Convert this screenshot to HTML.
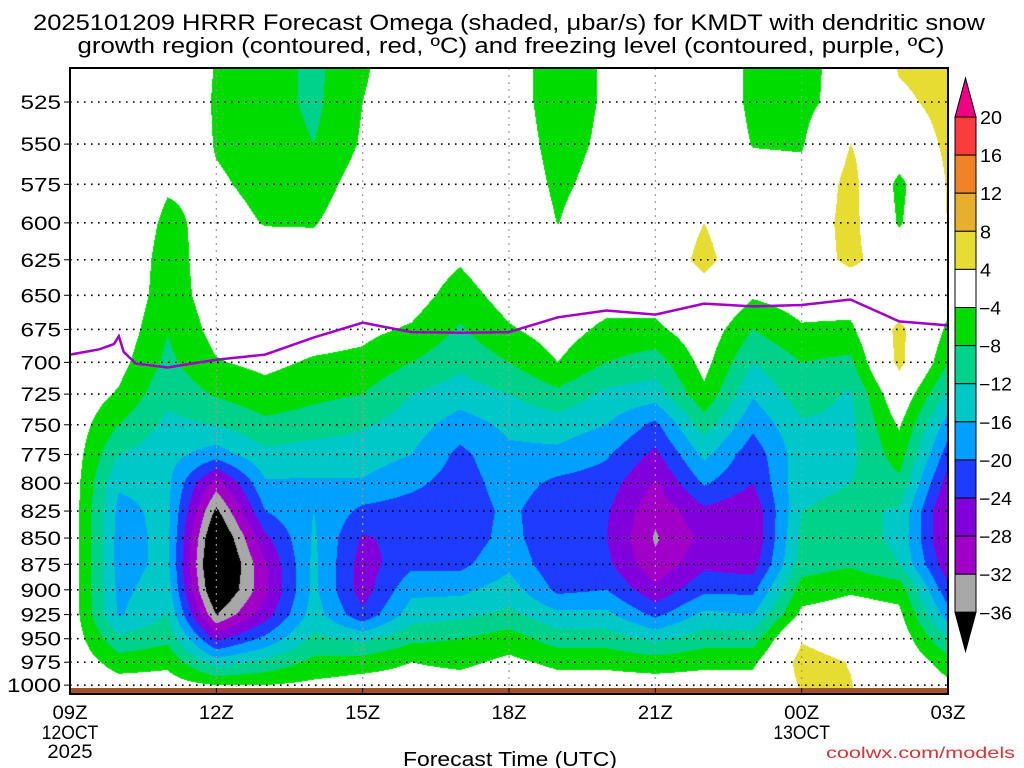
<!DOCTYPE html>
<html><head><meta charset="utf-8"><style>
body{margin:0;background:#fff;width:1024px;height:768px;overflow:hidden;position:relative;font-family:"Liberation Sans",sans-serif}
canvas,svg{position:absolute;left:0;top:0}
</style></head><body>
<canvas id="cv" width="1024" height="768"></canvas>
<svg id="sv" width="1024" height="768"></svg>
<script>
// data
const times=[0,1,2,3,4,5,6,7,8,9,10,11,12,13,14,15,16,17,18];
const pressures=[500,525,550,575,600,625,650,675,700,725,750,775,800,825,850,875,900,925,950,975,1000];
const omega=[
[0,0,0,0,0,0,0,0,0,-0.5,-1,-1,-1,-1,-1,-1,-1,-1,-1,-0.5,0],
[0,0,0,0,0,0,0,-1,-2.5,-4.5,-8,-12,-15.5,-17,-17.5,-17.5,-17,-16.5,-11,-6,-2],
[0,0,0,-3.5,-5,-6,-6.5,-7.8,-9,-11,-13,-14.5,-15,-15,-15,-15,-14,-12,-9,-5,-2],
[-4.2,-4.5,-4.3,-3.5,-2.5,-1.5,-1.5,-2.5,-4.3,-7.5,-12,-18,-30,-37,-42,-44,-42,-36,-25,-14,-4],
[-6,-6,-5.5,-5,-4.2,-2,-1,-1.5,-3,-5.5,-9,-13,-16.5,-20,-25,-28.5,-29,-26,-19,-11,-4],
[-9,-9,-8,-6,-4.3,-2,-1,-2,-4.5,-7,-10,-14,-16.5,-16,-15.5,-15,-15,-14,-11,-7,-3],
[-5,-4,-3.5,-2,-1,-0.5,-1,-3,-5,-8,-11.5,-14,-16.5,-21,-24.5,-26,-26,-23,-13,-6,-2],
[0,0,0,0,0,-1,-2,-4.5,-8,-12,-14,-16,-19,-22,-22.5,-21,-17,-14,-9,-4,-2],
[0,0,0,0,-1,-3.5,-6,-8.5,-11,-14,-18,-21,-22,-22.5,-22.5,-21,-17,-13,-8,-5,-2],
[-2,-2,-1.5,-1,0,0,-2,-4.5,-8,-12,-15,-17,-18,-19,-18.5,-17,-14,-11,-6,-3,-1],
[-6,-6,-5.5,-4.8,-4.1,-1,-1,-2,-4,-9,-14,-17,-21,-23,-23.5,-23,-21,-15,-10,-5,-2],
[-3.5,-3.5,-3.2,-2.5,-1,0,-2,-5,-8,-13,-16,-19.5,-22,-23.5,-24,-23,-20,-15,-10,-5,-2],
[-4.5,-2,0,0,0,0,-2,-5,-10,-14,-21,-25,-28.5,-31,-32.5,-31,-27,-21,-13,-6,-2],
[0,0,0,2,4,5.5,1.5,-1,-2.5,-5,-10,-15,-19.5,-25,-27,-25,-21,-15,-10,-5,-2],
[-5,-5,-4.2,-2,0,0,-3.5,-8,-12,-15.5,-19,-22.5,-24,-27,-27.5,-26,-21,-16,-10,-5,-2],
[-5.5,-5.5,-4.5,-2,0,0,-2,-4.5,-8,-10,-12.5,-13.5,-13,-12,-11,-10,-6,-3,3.5,6,4.5],
[-2,-1.5,4,6,6,5.5,-1.5,-5,-9,-12.5,-13,-13,-12,-11,-10,-8.5,-4.5,-2,1,3.8,4.2],
[4.8,3,0,-5.5,-4.6,0,-1,5.5,5.5,0,-3.5,-6,-9,-12.5,-13,-12,-5.5,-3,-1,0,0],
[6,5.5,5,4.5,4.2,2,-2,-5,-8,-13,-18,-22,-26,-29,-29,-27,-23,-18,-12,-6,-3]
];
const fzTimes=[0,0.6,0.9,1.0,1.1,1.35,2,3,4,5,6,7,8,9,10,11,12,13,14,15,16,17,18];
const fzLevels=[694,690,686,680,692,701,704,698,694,681,670,677,677.5,677,666,661,664,656,658,657,653,669,672];
const levelTicks=[525,550,575,600,625,650,675,700,725,750,775,800,825,850,875,900,925,950,975,1000];
const timeTicks=[0,3,6,9,12,15,18];
const timeLabels=["09Z","12Z","15Z","18Z","21Z","00Z","03Z"];
const dateLabels={0:["12OCT","2025"],15:["13OCT"]};
const cbLevels=[20,16,12,8,4,-4,-8,-12,-16,-20,-24,-28,-32,-36];
const bounds=[-36,-32,-28,-24,-20,-16,-12,-8,-4,4,8,12,16,20];
const colors=["#000000","#a8a8a8","#a000c8","#8200dc","#1e3cff","#00a0ff","#00c8c8","#00d28c","#00dc00","#ffffff","#e6dc32","#e6af2d","#f08228","#fa3c3c","#f00082"];

const X0=70,X1=948,Y0=68,Y1=693;
const xs=t=>X0+(X1-X0)*t/18;
const ys=p=>102+905*Math.log(p/525);
const pOf=y=>525*Math.exp((y-102)/905);

// heatmap
const cv=document.getElementById('cv');const ctx=cv.getContext('2d');
const img=ctx.createImageData(X1-X0,Y1-Y0);
function hex(c){return [parseInt(c.slice(1,3),16),parseInt(c.slice(3,5),16),parseInt(c.slice(5,7),16)];}
const rgb=colors.map(hex);
for(let py=Y0;py<Y1;py++){
  let p=pOf(py+0.5);let r=(p-500)/25;if(r<0)r=0;if(r>20)r=20;
  const r0=Math.min(19,Math.floor(r)),fr=r-r0;
  for(let px=X0;px<X1;px++){
    let t=(px+0.5-X0)/((X1-X0)/18);if(t>18)t=18;
    const t0=Math.min(17,Math.floor(t)),ft=t-t0;
    const v=(omega[t0][r0]*(1-ft)+omega[t0+1][r0]*ft)*(1-fr)+(omega[t0][r0+1]*(1-ft)+omega[t0+1][r0+1]*ft)*fr;
    let k=0;while(k<bounds.length&&v>=bounds[k])k++;
    const c=rgb[k];const i=((py-Y0)*(X1-X0)+(px-X0))*4;
    img.data[i]=c[0];img.data[i+1]=c[1];img.data[i+2]=c[2];img.data[i+3]=255;
  }
}
ctx.putImageData(img,X0,Y0);

const sv=document.getElementById('sv');const NS="http://www.w3.org/2000/svg";
function mk(tag,attrs,parent){const e=document.createElementNS(NS,tag);for(const k in attrs)e.setAttribute(k,attrs[k]);(parent||sv).appendChild(e);return e;}
function txt(x,y,s,size,anchor,fill,len){const a={x:x,y:y,'font-size':size,'text-anchor':anchor||'middle',fill:fill||'#000','font-family':'Liberation Sans, sans-serif'};
  if(len){a.textLength=len;a.lengthAdjust='spacingAndGlyphs';}
  const e=mk('text',a);e.textContent=s;return e;}

// ground strip
let g=mk('rect',{x:X0,y:688,width:X1-X0,height:6,fill:'#a0522d'});



// grid lines
levelTicks.forEach(p=>{
  const y=ys(p);
  const l=mk('line',{x1:X0,x2:X1,y1:y,y2:y,stroke:'#000','stroke-width':1.6,'stroke-dasharray':'1.6 5.4'});
  
  
  mk('line',{x1:X0-6,x2:X0,y1:y,y2:y,stroke:'#000','stroke-width':1});
  const s=String(p);
  const t=txt(61,y+7,s,19,'end','#000',s.length*13.5);
  
  
});
timeTicks.forEach((tt,i)=>{
  const x=xs(tt);
  if(i>0&&i<timeTicks.length-1){
    const l=mk('line',{x1:x,x2:x,y1:Y0,y2:Y1,stroke:'#999','stroke-width':1.2,'stroke-dasharray':'2 5'});
    
    
  }
  mk('line',{x1:x,x2:x,y1:Y1+2,y2:Y1-5,stroke:'#000','stroke-width':1});
  const t=txt(x,719,timeLabels[i],19,'middle','#000',35);
  
  
  if(dateLabels[tt]){dateLabels[tt].forEach((s,j)=>{const d=txt(x,739+j*19,s,19,'middle','#000',s.length*11.3);
    
    });}
});

// freezing level line
let pts=fzTimes.map((t,i)=>xs(t).toFixed(1)+','+ys(fzLevels[i]).toFixed(1)).join(' ');
let fz=mk('polyline',{points:pts,fill:'none',stroke:'#a000c8','stroke-width':2.5});



// frame
let fr=mk('rect',{x:X0,y:Y0,width:X1-X0,height:Y1-Y0+1,fill:'none',stroke:'#000','stroke-width':2});



// colorbar
const CX=955,CW=21,CT=117,CH=38.1;
const cbColors=colors.slice().reverse();
let tri=mk('polygon',{points:`${CX},${CT} ${CX+CW},${CT} ${CX+CW/2},${CT-39}`,fill:cbColors[0],stroke:'#000','stroke-width':1});


for(let i=1;i<cbColors.length-1;i++){
  const r=mk('rect',{x:CX,y:CT+(i-1)*CH,width:CW,height:CH,fill:cbColors[i],stroke:'#000','stroke-width':1});
  
  
}
const CB=CT+13*CH;
let tri2=mk('polygon',{points:`${CX},${CB} ${CX+CW},${CB} ${CX+CW/2},${CB+39}`,fill:'#000',stroke:'#000','stroke-width':1});


cbLevels.forEach((v,i)=>{
  const s=v<0?'\u2212'+(-v):String(v);
  const t=txt(v<0?979:980,CT+i*CH+7,s,18,'start','#000',s.length*11);
  
  
});

// titles
let t1=txt(509,30,"2025101209 HRRR Forecast Omega (shaded, \u03bcbar/s) for KMDT with dendritic snow",22,'middle','#000',952);


let t2=txt(511,53,"growth region (contoured, red, \u00baC) and freezing level (contoured, purple, \u00baC)",22,'middle','#000',867);


let xt=txt(510,766,"Forecast Time (UTC)",20,'middle','#000',214);


let cr=txt(1015,758,"coolwx.com/models",16,'end','#e03030',189);


</script>
</body></html>
